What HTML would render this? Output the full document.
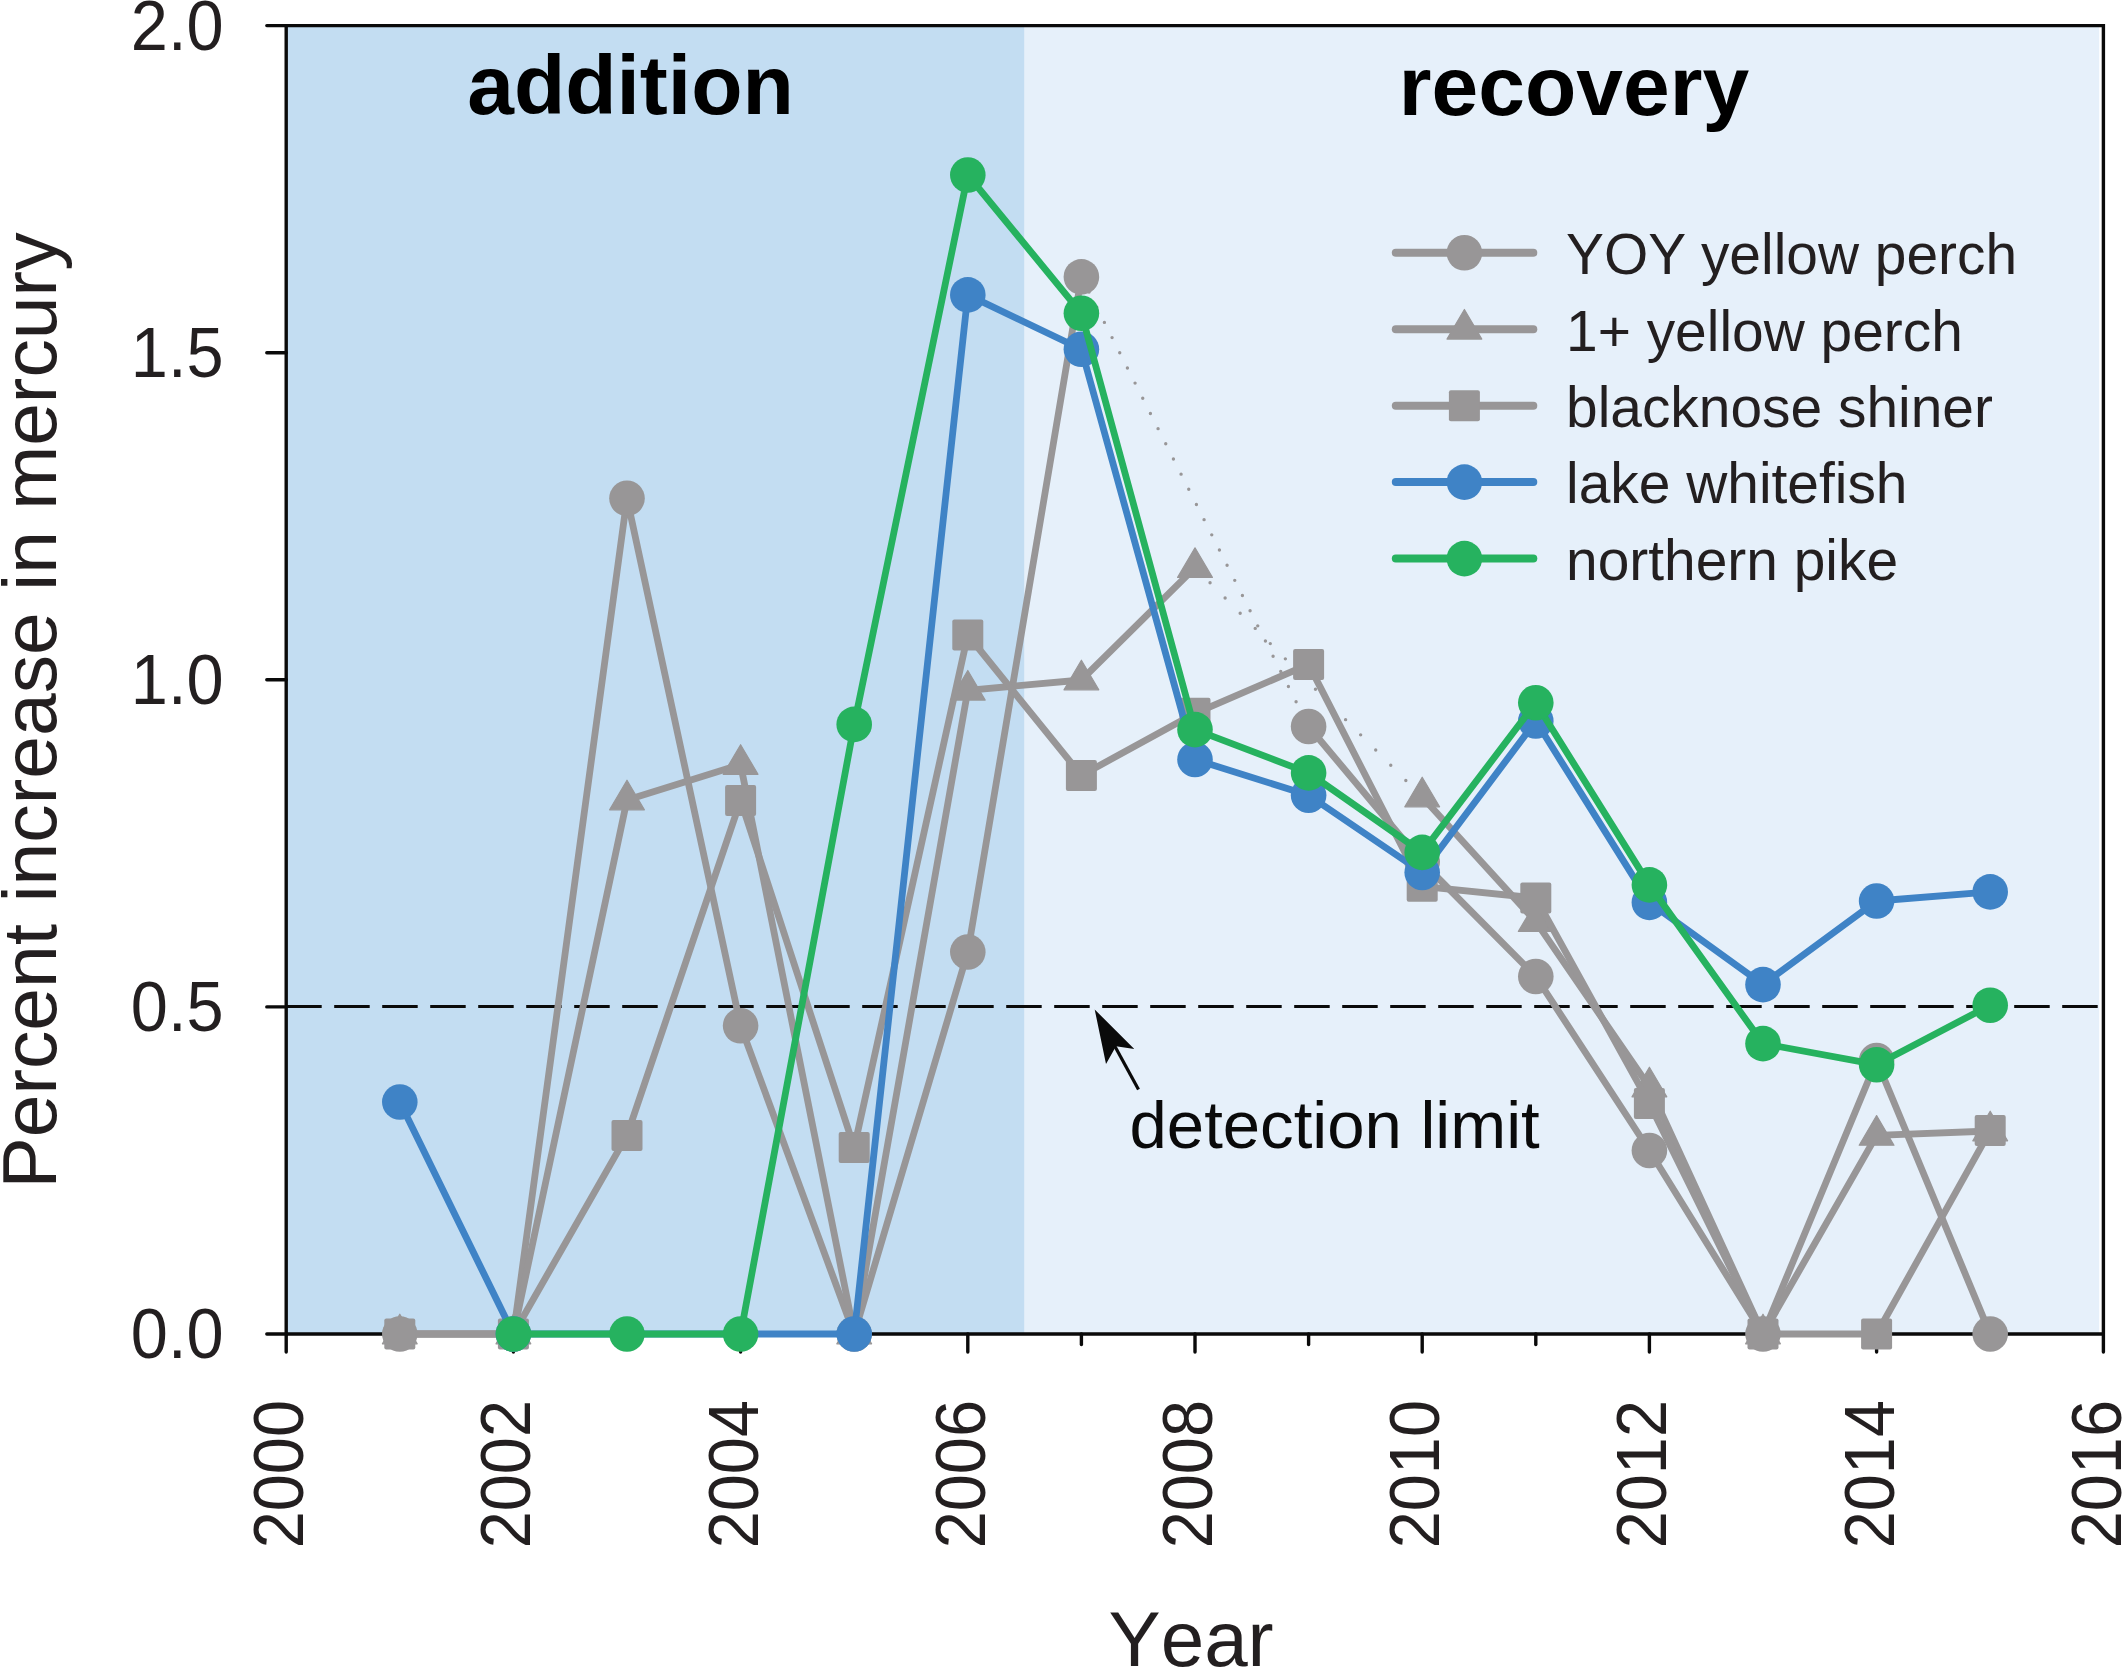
<!DOCTYPE html>
<html lang="en"><head><meta charset="utf-8"><title>Percent increase in mercury</title>
<style>html,body{margin:0;padding:0;background:#fff}svg{display:block}text{font-family:"Liberation Sans",sans-serif;fill:#231f20}</style></head><body>
<svg width="2122" height="1669" viewBox="0 0 2122 1669">
<rect width="2122" height="1669" fill="#fff"/>
<rect x="286.2" y="25.6" width="738.4" height="1308.4" fill="#c3ddf2"/>
<rect x="1024.6" y="25.6" width="1074.6" height="1308.4" fill="#e6f0fa"/>
<g stroke="#0a0a0a" stroke-width="3.4" fill="none" stroke-linecap="round">
<path d="M266.8,25.6 H2103.4 V1352 M286.2,25.6 V1352 M266.8,1334 H2103.4" stroke-linejoin="miter"/>
<path d="M266.8,352.7 H286.2"/>
<path d="M266.8,679.8 H286.2"/>
<path d="M266.8,1006.9 H286.2"/>
<path d="M399.8,1334 V1344.5"/>
<path d="M513.4,1334 V1352"/>
<path d="M627.0,1334 V1344.5"/>
<path d="M740.6,1334 V1352"/>
<path d="M854.2,1334 V1344.5"/>
<path d="M967.8,1334 V1352"/>
<path d="M1081.4,1334 V1344.5"/>
<path d="M1195.0,1334 V1352"/>
<path d="M1308.6,1334 V1344.5"/>
<path d="M1422.2,1334 V1352"/>
<path d="M1535.8,1334 V1344.5"/>
<path d="M1649.4,1334 V1352"/>
<path d="M1763.0,1334 V1344.5"/>
<path d="M1876.6,1334 V1352"/>
<path d="M1990.2,1334 V1344.5"/>
</g>
<path d="M286.2,1006.5 H2103" stroke="#0a0a0a" stroke-width="3" stroke-dasharray="35.5 12.5" fill="none"/>
<path d="M1081.4,276.9 L1308.6,726.5" stroke="#989697" stroke-width="3.4" stroke-dasharray="0 17" stroke-linecap="round" fill="none"/>
<path d="M1195.0,567.6 L1422.2,797" stroke="#989697" stroke-width="3.4" stroke-dasharray="0 21.4" stroke-linecap="round" fill="none"/>
<polyline points="399.8,1334 513.4,1334 627.0,498.3 740.6,1025.8 854.2,1334 967.8,952 1081.4,276.9" fill="none" stroke="#989697" stroke-width="6.8" stroke-linejoin="round" stroke-linecap="round"/>
<polyline points="1308.6,726.5 1422.2,862 1535.8,976.5 1649.4,1150.5 1763.0,1334 1876.6,1060.5 1990.2,1334" fill="none" stroke="#989697" stroke-width="6.8" stroke-linejoin="round" stroke-linecap="round"/>
<circle cx="399.8" cy="1334" r="17.8" fill="#989697"/>
<circle cx="513.4" cy="1334" r="17.8" fill="#989697"/>
<circle cx="627.0" cy="498.3" r="17.8" fill="#989697"/>
<circle cx="740.6" cy="1025.8" r="17.8" fill="#989697"/>
<circle cx="854.2" cy="1334" r="17.8" fill="#989697"/>
<circle cx="967.8" cy="952" r="17.8" fill="#989697"/>
<circle cx="1081.4" cy="276.9" r="17.8" fill="#989697"/>
<circle cx="1308.6" cy="726.5" r="17.8" fill="#989697"/>
<circle cx="1422.2" cy="862" r="17.8" fill="#989697"/>
<circle cx="1535.8" cy="976.5" r="17.8" fill="#989697"/>
<circle cx="1649.4" cy="1150.5" r="17.8" fill="#989697"/>
<circle cx="1763.0" cy="1334" r="17.8" fill="#989697"/>
<circle cx="1876.6" cy="1060.5" r="17.8" fill="#989697"/>
<circle cx="1990.2" cy="1334" r="17.8" fill="#989697"/>
<polyline points="399.8,1334 513.4,1334 627.0,800 740.6,764.5 854.2,1334 967.8,690.3 1081.4,680 1195.0,567.6" fill="none" stroke="#989697" stroke-width="6.8" stroke-linejoin="round" stroke-linecap="round"/>
<polyline points="1422.2,797 1535.8,921.6 1649.4,1087 1763.0,1334 1876.6,1135.4 1990.2,1131" fill="none" stroke="#989697" stroke-width="6.8" stroke-linejoin="round" stroke-linecap="round"/>
<path d="M399.8,1314.2 L417.2,1343.8 L382.40000000000003,1343.8 Z" fill="#989697" stroke="#989697" stroke-width="1.2" stroke-linejoin="round"/>
<path d="M513.4,1314.2 L530.8,1343.8 L496.0,1343.8 Z" fill="#989697" stroke="#989697" stroke-width="1.2" stroke-linejoin="round"/>
<path d="M627.0,780.2 L644.4,809.8 L609.6,809.8 Z" fill="#989697" stroke="#989697" stroke-width="1.2" stroke-linejoin="round"/>
<path d="M740.6,744.7 L758.0,774.3 L723.2,774.3 Z" fill="#989697" stroke="#989697" stroke-width="1.2" stroke-linejoin="round"/>
<path d="M854.2,1314.2 L871.6,1343.8 L836.8000000000001,1343.8 Z" fill="#989697" stroke="#989697" stroke-width="1.2" stroke-linejoin="round"/>
<path d="M967.8,670.5 L985.1999999999999,700.0999999999999 L950.4,700.0999999999999 Z" fill="#989697" stroke="#989697" stroke-width="1.2" stroke-linejoin="round"/>
<path d="M1081.4,660.2 L1098.8000000000002,689.8 L1064.0,689.8 Z" fill="#989697" stroke="#989697" stroke-width="1.2" stroke-linejoin="round"/>
<path d="M1195.0,547.8000000000001 L1212.4,577.4 L1177.6,577.4 Z" fill="#989697" stroke="#989697" stroke-width="1.2" stroke-linejoin="round"/>
<path d="M1422.2,777.2 L1439.6000000000001,806.8 L1404.8,806.8 Z" fill="#989697" stroke="#989697" stroke-width="1.2" stroke-linejoin="round"/>
<path d="M1535.8,901.8000000000001 L1553.2,931.4 L1518.3999999999999,931.4 Z" fill="#989697" stroke="#989697" stroke-width="1.2" stroke-linejoin="round"/>
<path d="M1649.4,1067.2 L1666.8000000000002,1096.8 L1632.0,1096.8 Z" fill="#989697" stroke="#989697" stroke-width="1.2" stroke-linejoin="round"/>
<path d="M1763.0,1314.2 L1780.4,1343.8 L1745.6,1343.8 Z" fill="#989697" stroke="#989697" stroke-width="1.2" stroke-linejoin="round"/>
<path d="M1876.6,1115.6000000000001 L1894.0,1145.2 L1859.1999999999998,1145.2 Z" fill="#989697" stroke="#989697" stroke-width="1.2" stroke-linejoin="round"/>
<path d="M1990.2,1111.2 L2007.6000000000001,1140.8 L1972.8,1140.8 Z" fill="#989697" stroke="#989697" stroke-width="1.2" stroke-linejoin="round"/>
<polyline points="399.8,1334 513.4,1334 627.0,1135.4 740.6,800.4 854.2,1147.5 967.8,635 1081.4,775.4 1195.0,713.3 1308.6,664.4 1422.2,886.3 1535.8,898 1649.4,1103.6 1763.0,1334 1876.6,1334 1990.2,1130.6" fill="none" stroke="#989697" stroke-width="6.8" stroke-linejoin="round" stroke-linecap="round"/>
<rect x="384.3" y="1318.5" width="31" height="31" rx="2" fill="#989697"/>
<rect x="497.9" y="1318.5" width="31" height="31" rx="2" fill="#989697"/>
<rect x="611.5" y="1119.9" width="31" height="31" rx="2" fill="#989697"/>
<rect x="725.1" y="784.9" width="31" height="31" rx="2" fill="#989697"/>
<rect x="838.7" y="1132.0" width="31" height="31" rx="2" fill="#989697"/>
<rect x="952.3" y="619.5" width="31" height="31" rx="2" fill="#989697"/>
<rect x="1065.9" y="759.9" width="31" height="31" rx="2" fill="#989697"/>
<rect x="1179.5" y="697.8" width="31" height="31" rx="2" fill="#989697"/>
<rect x="1293.1" y="648.9" width="31" height="31" rx="2" fill="#989697"/>
<rect x="1406.7" y="870.8" width="31" height="31" rx="2" fill="#989697"/>
<rect x="1520.3" y="882.5" width="31" height="31" rx="2" fill="#989697"/>
<rect x="1633.9" y="1088.1" width="31" height="31" rx="2" fill="#989697"/>
<rect x="1747.5" y="1318.5" width="31" height="31" rx="2" fill="#989697"/>
<rect x="1861.1" y="1318.5" width="31" height="31" rx="2" fill="#989697"/>
<rect x="1974.7" y="1115.1" width="31" height="31" rx="2" fill="#989697"/>
<polyline points="399.8,1102 513.4,1334 854.2,1334 967.8,294.9 1081.4,349.3 1195.0,759.5 1308.6,795.2 1422.2,872.5 1535.8,721 1649.4,902.4 1763.0,984.6 1876.6,901 1990.2,891.9" fill="none" stroke="#3f83c6" stroke-width="6.8" stroke-linejoin="round" stroke-linecap="round"/>
<circle cx="399.8" cy="1102" r="17.8" fill="#3f83c6"/>
<circle cx="513.4" cy="1334" r="17.8" fill="#3f83c6"/>
<circle cx="854.2" cy="1334" r="17.8" fill="#3f83c6"/>
<circle cx="967.8" cy="294.9" r="17.8" fill="#3f83c6"/>
<circle cx="1081.4" cy="349.3" r="17.8" fill="#3f83c6"/>
<circle cx="1195.0" cy="759.5" r="17.8" fill="#3f83c6"/>
<circle cx="1308.6" cy="795.2" r="17.8" fill="#3f83c6"/>
<circle cx="1422.2" cy="872.5" r="17.8" fill="#3f83c6"/>
<circle cx="1535.8" cy="721" r="17.8" fill="#3f83c6"/>
<circle cx="1649.4" cy="902.4" r="17.8" fill="#3f83c6"/>
<circle cx="1763.0" cy="984.6" r="17.8" fill="#3f83c6"/>
<circle cx="1876.6" cy="901" r="17.8" fill="#3f83c6"/>
<circle cx="1990.2" cy="891.9" r="17.8" fill="#3f83c6"/>
<polyline points="513.4,1334 627.0,1334 740.6,1334 854.2,724.4 967.8,175 1081.4,313.3 1195.0,729.6 1308.6,772.9 1422.2,852.4 1535.8,702.8 1649.4,884.9 1763.0,1043.6 1876.6,1064.7 1990.2,1005.2" fill="none" stroke="#26b25f" stroke-width="6.8" stroke-linejoin="round" stroke-linecap="round"/>
<circle cx="513.4" cy="1334" r="17.8" fill="#26b25f"/>
<circle cx="627.0" cy="1334" r="17.8" fill="#26b25f"/>
<circle cx="740.6" cy="1334" r="17.8" fill="#26b25f"/>
<circle cx="854.2" cy="724.4" r="17.8" fill="#26b25f"/>
<circle cx="967.8" cy="175" r="17.8" fill="#26b25f"/>
<circle cx="1081.4" cy="313.3" r="17.8" fill="#26b25f"/>
<circle cx="1195.0" cy="729.6" r="17.8" fill="#26b25f"/>
<circle cx="1308.6" cy="772.9" r="17.8" fill="#26b25f"/>
<circle cx="1422.2" cy="852.4" r="17.8" fill="#26b25f"/>
<circle cx="1535.8" cy="702.8" r="17.8" fill="#26b25f"/>
<circle cx="1649.4" cy="884.9" r="17.8" fill="#26b25f"/>
<circle cx="1763.0" cy="1043.6" r="17.8" fill="#26b25f"/>
<circle cx="1876.6" cy="1064.7" r="17.8" fill="#26b25f"/>
<circle cx="1990.2" cy="1005.2" r="17.8" fill="#26b25f"/>
<path d="M1138.5,1089.5 L1112,1041" stroke="#0a0a0a" stroke-width="3.2" fill="none"/>
<path d="M1094.7,1009.5 L1134.3,1049 L1116,1046.2 L1106,1064 Z" fill="#0a0a0a"/>
<path d="M1395.8,252.8 H1533.3" stroke="#989697" stroke-width="8" stroke-linecap="round" fill="none"/>
<circle cx="1464.4" cy="252.8" r="17.8" fill="#989697"/>
<text x="1566" y="274.0" font-size="56.9">YOY yellow perch</text>
<path d="M1395.8,329.3 H1533.3" stroke="#989697" stroke-width="8" stroke-linecap="round" fill="none"/>
<path d="M1464.4,309.5 L1481.8000000000002,339.1 L1447.0,339.1 Z" fill="#989697" stroke="#989697" stroke-width="1.2" stroke-linejoin="round"/>
<text x="1566" y="350.5" font-size="56.9">1+ yellow perch</text>
<path d="M1395.8,405.7 H1533.3" stroke="#989697" stroke-width="8" stroke-linecap="round" fill="none"/>
<rect x="1448.9" y="390.2" width="31" height="31" rx="2" fill="#989697"/>
<text x="1566" y="426.9" font-size="56.9">blacknose shiner</text>
<path d="M1395.8,482.1 H1533.3" stroke="#3f83c6" stroke-width="8" stroke-linecap="round" fill="none"/>
<circle cx="1464.4" cy="482.1" r="17.8" fill="#3f83c6"/>
<text x="1566" y="503.3" font-size="56.9">lake whitefish</text>
<path d="M1395.8,558.6 H1533.3" stroke="#26b25f" stroke-width="8" stroke-linecap="round" fill="none"/>
<circle cx="1464.4" cy="558.6" r="17.8" fill="#26b25f"/>
<text x="1566" y="579.8" font-size="56.9">northern pike</text>
<text x="630.5" y="113.5" font-size="84" font-weight="bold" text-anchor="middle" style="fill:#000">addition</text>
<text x="1574" y="114.5" font-size="84" font-weight="bold" text-anchor="middle" style="fill:#000">recovery</text>
<text x="1129.5" y="1148" font-size="67.1" style="fill:#0a0a0a">detection limit</text>
<text transform="translate(223.5,49.8) scale(1,1.045)" font-size="66.7" text-anchor="end">2.0</text>
<text transform="translate(223.5,376.9) scale(1,1.045)" font-size="66.7" text-anchor="end">1.5</text>
<text transform="translate(223.5,704.0) scale(1,1.045)" font-size="66.7" text-anchor="end">1.0</text>
<text transform="translate(223.5,1031.1) scale(1,1.045)" font-size="66.7" text-anchor="end">0.5</text>
<text transform="translate(223.5,1358.2) scale(1,1.045)" font-size="66.7" text-anchor="end">0.0</text>
<text transform="translate(303.2,1400) rotate(-90) scale(1,1.045)" font-size="66.7" text-anchor="end">2000</text>
<text transform="translate(530.4,1400) rotate(-90) scale(1,1.045)" font-size="66.7" text-anchor="end">2002</text>
<text transform="translate(757.6,1400) rotate(-90) scale(1,1.045)" font-size="66.7" text-anchor="end">2004</text>
<text transform="translate(984.8,1400) rotate(-90) scale(1,1.045)" font-size="66.7" text-anchor="end">2006</text>
<text transform="translate(1212.0,1400) rotate(-90) scale(1,1.045)" font-size="66.7" text-anchor="end">2008</text>
<text transform="translate(1439.2,1400) rotate(-90) scale(1,1.045)" font-size="66.7" text-anchor="end">2010</text>
<text transform="translate(1666.4,1400) rotate(-90) scale(1,1.045)" font-size="66.7" text-anchor="end">2012</text>
<text transform="translate(1893.6,1400) rotate(-90) scale(1,1.045)" font-size="66.7" text-anchor="end">2014</text>
<text transform="translate(2120.8,1400) rotate(-90) scale(1,1.045)" font-size="66.7" text-anchor="end">2016</text>
<text transform="translate(56,710.5) rotate(-90)" font-size="76.8" text-anchor="middle">Percent increase in mercury</text>
<text x="1108.5" y="1666" font-size="78.2" style="font-kerning:none">Year</text>
</svg></body></html>
